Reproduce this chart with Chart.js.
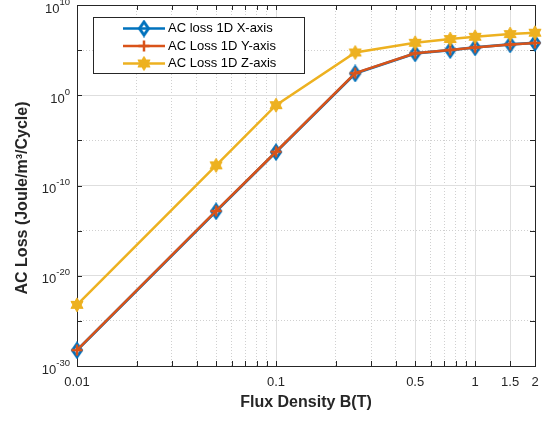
<!DOCTYPE html>
<html>
<head>
<meta charset="utf-8">
<script src="https://cdn.jsdelivr.net/npm/chart.js@4.4.1/dist/chart.umd.min.js"></script>
<style>
  body { margin: 0; background: #fff; }
  canvas { display: block; }
</style>
</head>
<body>
<canvas id="acLoss" width="548" height="421"></canvas>
<script>
// flux density values (T) and AC loss per axis (Joule/m^3/Cycle)
const fluxB = [0.01, 0.05, 0.1, 0.25, 0.5, 0.75, 1, 1.5, 2];
const lossX = [5.5e-29, 1.4e-13, 5.0e-7, 2.6e2, 4.3e4, 1.0e5, 2.0e5, 4.3e5, 6.5e5];
const lossY = [5.8e-29, 1.5e-13, 5.5e-7, 2.8e2, 4.5e4, 1.05e5, 2.0e5, 4.2e5, 6.3e5];
const lossZ = [6.0e-24, 1.7e-8, 8.0e-2, 5.5e4, 6.5e5, 1.7e6, 3.0e6, 6.0e6, 8.5e6];
const seriesNames = ['AC loss 1D X-axis', 'AC Loss 1D Y-axis', 'AC Loss 1D Z-axis'];

const xMajorTicks = [0.01, 0.1, 0.5, 1, 1.5, 2];
const xTickLabels = ['0.01', '0.1', '0.5', '1', '1.5', '2'];
const xMinorTicks = [0.02, 0.03, 0.04, 0.05, 0.06, 0.07, 0.08, 0.09, 0.2, 0.3, 0.4, 0.6, 0.7, 0.8, 0.9];
const yMajorExp = [-30, -20, -10, 0, 10];
const yMinorExp = [-25, -15, -5, 5];

const FONT = '"Liberation Sans", Arial, sans-serif';
const BLUE = '#0072BD', ORANGE = '#D95319', YELLOW = '#EDB120';

// marker images
function diamondMarker(color) {
    const c = document.createElement('canvas');
    c.width = 14; c.height = 18;
    const g = c.getContext('2d');
    g.strokeStyle = color;
    g.lineWidth = 3;
    g.beginPath();
    g.moveTo(7, 2.5); g.lineTo(11.5, 9); g.lineTo(7, 15.5); g.lineTo(2.5, 9);
    g.closePath();
    g.stroke();
    return c;
}
function crossMarker(color) {
    const c = document.createElement('canvas');
    c.width = 14; c.height = 14;
    const g = c.getContext('2d');
    g.strokeStyle = color;
    g.lineWidth = 2.5;
    g.beginPath();
    g.moveTo(7, 1.5); g.lineTo(7, 12.5);
    g.moveTo(1.5, 7); g.lineTo(12.5, 7);
    g.stroke();
    return c;
}
function hexagramMarker(color) {
    const c = document.createElement('canvas');
    c.width = 18; c.height = 18;
    const g = c.getContext('2d');
    g.fillStyle = color;
    g.strokeStyle = color;
    g.lineWidth = 1;
    const R = 7;
    [-90, 90].forEach(start => {
        g.beginPath();
        for (let k = 0; k < 3; k++) {
            const a = (start + k * 120) * Math.PI / 180;
            const px = 9 + R * Math.cos(a), py = 9 + R * Math.sin(a);
            if (k === 0) g.moveTo(px, py); else g.lineTo(px, py);
        }
        g.closePath();
        g.fill();
        g.stroke();
    });
    return c;
}

const markers = [diamondMarker(BLUE), crossMarker(ORANGE), hexagramMarker(YELLOW)];

function toPoints(ys) {
    return fluxB.map((b, i) => ({ x: b, y: ys[i] }));
}

function isMajorX(v) {
    return xMajorTicks.some(t => Math.abs(t - v) < 1e-9);
}
function isMajorY(v) {
    const e = Math.round(Math.log10(v));
    return yMajorExp.includes(e);
}

// axes box, inward ticks, tick labels, legend
const axesDecor = {
    id: 'axesDecor',
    beforeDatasetsDraw(chart) {
        const ctx = chart.ctx;
        const a = chart.chartArea;
        const xs = chart.scales.x, ys = chart.scales.y;
        ctx.save();
        ctx.strokeStyle = '#262626';
        ctx.lineWidth = 1;
        ctx.beginPath();
        xMajorTicks.concat(xMinorTicks).forEach(v => {
            const px = Math.round(xs.getPixelForValue(v)) + 0.5;
            ctx.moveTo(px, a.bottom); ctx.lineTo(px, a.bottom - 5);
            ctx.moveTo(px, a.top); ctx.lineTo(px, a.top + 5);
        });
        yMajorExp.concat(yMinorExp).forEach(e => {
            const py = Math.round(ys.getPixelForValue(Math.pow(10, e))) + 0.5;
            ctx.moveTo(a.left, py); ctx.lineTo(a.left + 5, py);
            ctx.moveTo(a.right, py); ctx.lineTo(a.right - 5, py);
        });
        ctx.stroke();
        ctx.strokeRect(Math.round(a.left) + 0.5, Math.round(a.top) + 0.5,
            Math.round(a.right - a.left), Math.round(a.bottom - a.top));
        ctx.restore();
    },
    afterDraw(chart) {
        const ctx = chart.ctx;
        const a = chart.chartArea;
        const xs = chart.scales.x, ys = chart.scales.y;
        ctx.save();
        ctx.fillStyle = '#262626';

        // x tick labels
        ctx.font = '13px ' + FONT;
        ctx.textAlign = 'center';
        ctx.textBaseline = 'top';
        xMajorTicks.forEach((v, i) => {
            ctx.fillText(xTickLabels[i], xs.getPixelForValue(v), a.bottom + 10);
        });

        // y tick labels 10^n
        ctx.textAlign = 'left';
        ctx.textBaseline = 'middle';
        yMajorExp.forEach(e => {
            const py = ys.getPixelForValue(Math.pow(10, e));
            const expTxt = (e < 0 ? '-' : '') + Math.abs(e);
            ctx.font = '9.5px ' + FONT;
            const we = ctx.measureText(expTxt).width;
            ctx.font = '13px ' + FONT;
            const wb = ctx.measureText('10').width;
            const right = a.left - 7;
            ctx.fillText('10', right - we - wb, py + 4);
            ctx.font = '9.5px ' + FONT;
            ctx.fillText(expTxt, right - we, py - 3);
        });

        // axis titles
        ctx.font = 'bold 16px ' + FONT;
        ctx.textAlign = 'center';
        ctx.textBaseline = 'middle';
        ctx.fillText('Flux Density B(T)', (a.left + a.right) / 2, 403);
        ctx.save();
        ctx.translate(23, 198);
        ctx.rotate(-Math.PI / 2);
        ctx.fillText('AC Loss (Joule/m\u00B3/Cycle)', 0, 0);
        ctx.restore();

        // legend
        const lx = 93, ly = 17, lw = 211, lh = 56;
        ctx.fillStyle = '#fff';
        ctx.fillRect(lx, ly, lw, lh);
        ctx.strokeStyle = '#262626';
        ctx.lineWidth = 1;
        ctx.strokeRect(lx + 0.5, ly + 0.5, lw, lh);
        chart.data.datasets.forEach((ds, i) => {
            const ry = 28.5 + i * 17.5;
            ctx.strokeStyle = ds.borderColor;
            ctx.lineWidth = 2.5;
            ctx.beginPath();
            ctx.moveTo(123, ry); ctx.lineTo(165, ry);
            ctx.stroke();
            const m = markers[i];
            ctx.drawImage(m, 144 - m.width / 2, ry - m.height / 2);
            ctx.fillStyle = '#000';
            ctx.font = '13px ' + FONT;
            ctx.textAlign = 'left';
            ctx.fillText(ds.label, 168, ry);
        });
        ctx.restore();
    }
};

new Chart(document.getElementById('acLoss'), {
    type: 'line',
    data: {
        datasets: [
            { label: seriesNames[0], data: toPoints(lossX), borderColor: BLUE, borderWidth: 2.8,
              pointStyle: markers[0], order: 3, clip: false },
            { label: seriesNames[1], data: toPoints(lossY), borderColor: ORANGE, borderWidth: 2.5,
              pointStyle: markers[1], order: 2, clip: false },
            { label: seriesNames[2], data: toPoints(lossZ), borderColor: YELLOW, borderWidth: 2.5,
              pointStyle: markers[2], order: 1, clip: false }
        ]
    },
    options: {
        responsive: false,
        animation: false,
        layout: { padding: { left: 77, top: 5, right: 13, bottom: 55 }, autoPadding: false },
        plugins: { legend: { display: false }, tooltip: { enabled: false } },
        elements: { line: { tension: 0 } },
        scales: {
            x: {
                type: 'logarithmic',
                min: 0.01,
                max: 2,
                afterBuildTicks: s => { s.ticks = xMajorTicks.concat(xMinorTicks).map(v => ({ value: v })); },
                ticks: { display: false },
                grid: {
                    drawTicks: false,
                    lineWidth: 1,
                    color: c => (c.tick && isMajorX(c.tick.value)) ? '#dedede' : '#d0d0d0'
                },
                border: {
                    display: false,
                    dash: c => (c.tick && !isMajorX(c.tick.value)) ? [1, 2] : []
                }
            },
            y: {
                type: 'logarithmic',
                min: 1e-30,
                max: 1e10,
                afterBuildTicks: s => { s.ticks = yMajorExp.concat(yMinorExp).map(e => ({ value: Math.pow(10, e) })); },
                ticks: { display: false },
                grid: {
                    drawTicks: false,
                    lineWidth: 1,
                    color: c => (c.tick && isMajorY(c.tick.value)) ? '#dedede' : '#d0d0d0'
                },
                border: {
                    display: false,
                    dash: c => (c.tick && !isMajorY(c.tick.value)) ? [1, 2] : []
                }
            }
        }
    },
    plugins: [axesDecor]
});
</script>
</body>
</html>
